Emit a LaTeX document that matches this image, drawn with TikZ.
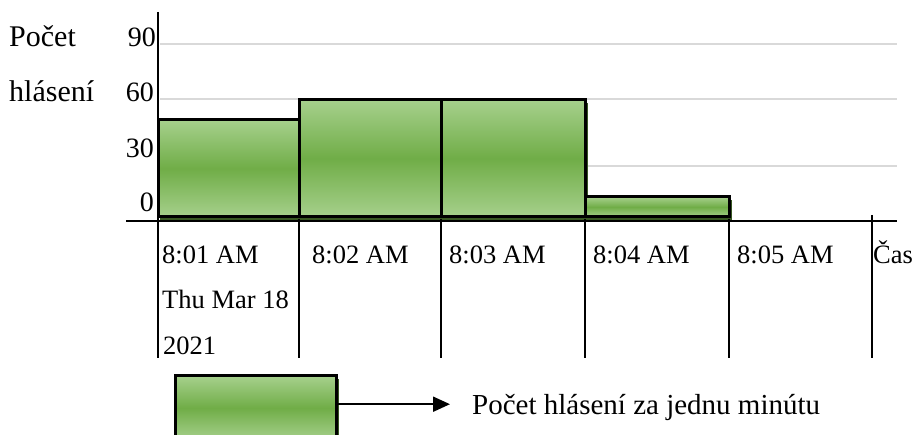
\documentclass[tikz,border=0pt]{standalone}
\usepackage{fontspec}
\setmainfont{Liberation Serif}
\usetikzlibrary{arrows.meta, calc, positioning}
\definecolor{barlight}{RGB}{166,208,140}
\definecolor{barmid}{RGB}{112,173,71}
\definecolor{bardark}{RGB}{56,87,35}
\definecolor{gridgray}{RGB}{217,217,217}
\tikzstyle{bar} = [
    draw=black,
    line width=3pt,
    top color=barlight,
    bottom color=barlight,
    middle color=barmid
]
\tikzstyle{barshadow} = [fill=bardark]
\tikzstyle{gridline} = [gridgray, line width=2.2pt]
\tikzstyle{axis} = [black, line width=2pt]
\tikzstyle{timelabel} = [
    anchor=base west,
    inner sep=0pt,
    font=\fontsize{26.5}{30}\selectfont
]
\tikzstyle{countlabel} = [
    anchor=base east,
    inner sep=0pt,
    font=\fontsize{28}{32}\selectfont
]
\tikzstyle{titlelabel} = [
    anchor=base west,
    inner sep=0pt,
    font=\fontsize{30}{34}\selectfont
]
\tikzstyle{arrow} = [line width=2pt, -{Triangle[length=17pt, width=15pt]}]

\begin{document}
\begin{tikzpicture}[x=1pt, y=-1pt]
    \useasboundingbox (0,0) rectangle (914,435);

    % grid
    \draw[gridline] (160,44) -- (897,44);
    \draw[gridline] (160,99) -- (897,99);
    \draw[gridline] (160,166) -- (897,166);

    % bars
    \foreach \xa/\xb/\top in {158/299/120, 299/441/100, 441/585/100, 585/729/197} {
        \fill[barshadow] (\xa+2,\top+3) rectangle (\xb+3,222);
    }
    \foreach \xa/\xb/\top in {158/299/120, 299/441/100, 441/585/100, 585/729/197} {
        \draw[bar] (\xa,\top) rectangle (\xb,217);
    }

    % axes
    \draw[axis] (158,12) -- (158,358);
    \draw[axis] (126,221) -- (897,221);
    \foreach \x in {299, 441, 585, 729} {
        \draw[axis] (\x,219) -- (\x,358);
    }
    \draw[axis] (872,215) -- (872,358);

    \node (count90) [countlabel] at (156,47) {90};
    \node (count60) [countlabel] at (154,102) {60};
    \node (count30) [countlabel] at (154,158) {30};
    \node (count0) [countlabel] at (154,212) {0};
    \node (title1) [titlelabel] at (9,47) {Počet};
    \node (title2) [titlelabel] at (9,102) {hlásení};

    \node (time1) [timelabel] at (162,264) {8:01 AM};
    \node (date1) [timelabel] at (162,309) {Thu Mar 18};
    \node (year1) [timelabel] at (163,355) {2021};
    \node (time2) [timelabel] at (312,264) {8:02 AM};
    \node (time3) [timelabel] at (449,264) {8:03 AM};
    \node (time4) [timelabel] at (593,264) {8:04 AM};
    \node (time5) [timelabel] at (737,264) {8:05 AM};
    \node (xname) [timelabel] at (873,264) {Čas};

    % legend
    \fill[barshadow] (178,379) rectangle (339,440);
    \node (lgbox) [anchor=north west, minimum width=161pt,
        minimum height=56pt, inner sep=0pt] at (175,376) {};
    \draw[bar] (175,376) rectangle (336,440);
    \node (lgtext) [anchor=base west, inner sep=0pt,
        font=\fontsize{29}{33}\selectfont] at (472,415)
        {Počet hlásení za jednu minútu};
    \draw [arrow] (lgbox.east) -- ([xshift=-22pt]lgbox.east -| lgtext.west);
\end{tikzpicture}
\end{document}
